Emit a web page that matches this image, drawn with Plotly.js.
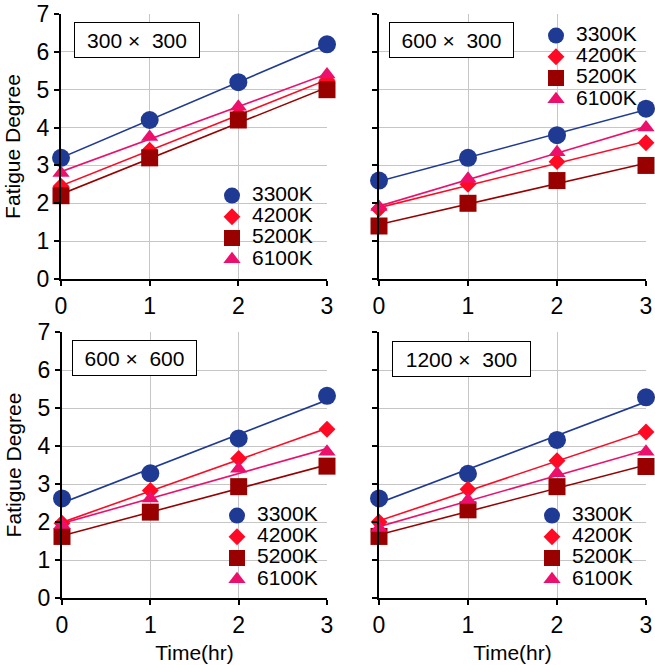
<!DOCTYPE html>
<html>
<head>
<meta charset="utf-8">
<script src="https://cdn.plot.ly/plotly-3.0.1.min.js"></script>
<style>html,body{margin:0;padding:0;background:#fff;}#chart{width:655px;height:665px;}</style>
</head>
<body>
<div id="chart"></div>
<script>
// ---- data ----
const timeHr = [0, 1, 2, 3];
const seriesNames = ["3300K", "4200K", "5200K", "6100K"];
const panelLabels = ["300 \u00d7 \u00a0300", "600 \u00d7 \u00a0300", "600 \u00d7 \u00a0600", "1200 \u00d7 \u00a0300"];

const p300x300_3300K = [3.2, 4.2, 5.2, 6.2];
const p300x300_4200K = [2.45, 3.4, 4.35, 5.25];
const p300x300_5200K = [2.2, 3.2, 4.2, 5.0];
const p300x300_6100K = [2.8, 3.75, 4.55, 5.4];

const p600x300_3300K = [2.6, 3.2, 3.8, 4.5];
const p600x300_4200K = [1.85, 2.5, 3.1, 3.6];
const p600x300_5200K = [1.4, 2.0, 2.6, 3.0];
const p600x300_6100K = [1.9, 2.65, 3.35, 4.0];

const p600x600_3300K = [2.62, 3.28, 4.2, 5.32];
const p600x600_4200K = [1.97, 2.83, 3.67, 4.44];
const p600x600_5200K = [1.62, 2.26, 2.93, 3.47];
const p600x600_6100K = [1.92, 2.62, 3.4, 3.85];

const p1200x300_3300K = [2.62, 3.27, 4.16, 5.28];
const p1200x300_4200K = [2.0, 2.86, 3.61, 4.37];
const p1200x300_5200K = [1.62, 2.32, 2.93, 3.46];
const p1200x300_6100K = [1.84, 2.58, 3.28, 3.85];

const panels = [
  [p300x300_3300K, p300x300_4200K, p300x300_5200K, p300x300_6100K],
  [p600x300_3300K, p600x300_4200K, p600x300_5200K, p600x300_6100K],
  [p600x600_3300K, p600x600_4200K, p600x600_5200K, p600x600_6100K],
  [p1200x300_3300K, p1200x300_4200K, p1200x300_5200K, p1200x300_6100K]
];

// ---- styles ----
const W = 655, H = 665;
const colors = ["#1f3a93", "#ff0a24", "#990000", "#ec106c"];
const symbols = ["circle", "diamond", "square", "triangle-up"];
const sizes = [18, 13, 17, 15];
const FONT = "Liberation Sans, Arial, sans-serif";

// panel pixel boxes [x0, x1, y0, y1]
const boxes = [[61, 327, 14, 279], [379, 646, 14, 279], [62, 327, 332, 598], [379, 646, 332, 598]];
// legend positions (left, top px)
const legendPos = [[212, 180], [536, 20], [217, 500], [532, 500]];
// label boxes (center x, center y, width)
const labelPos = [[137, 40, 122], [452, 40, 121], [134.5, 358, 121], [461.5, 359, 135]];

function fit(x, y) {
  const n = x.length;
  const mx = x.reduce((a, b) => a + b, 0) / n;
  const my = y.reduce((a, b) => a + b, 0) / n;
  let sxy = 0, sxx = 0;
  for (let i = 0; i < n; i++) { sxy += (x[i] - mx) * (y[i] - my); sxx += (x[i] - mx) ** 2; }
  const b = sxy / sxx;
  return [my - b * mx, b];
}

const traces = [];
const layout = {
  width: W, height: H,
  margin: {l: 0, r: 0, t: 0, b: 0},
  paper_bgcolor: "#fff", plot_bgcolor: "#fff",
  font: {family: FONT, color: "#000", size: 21},
  annotations: []
};

panels.forEach((series, p) => {
  const k = p + 1;
  const xa = "x" + k, ya = "y" + k;
  const b = boxes[p];
  const legendId = k === 1 ? "legend" : "legend" + k;
  // fitted lines first
  series.forEach((vals, s) => {
    const [a, sl] = fit(timeHr, vals);
    traces.push({
      x: [timeHr[0], timeHr[timeHr.length - 1]],
      y: [a + sl * timeHr[0], a + sl * timeHr[timeHr.length - 1]],
      xaxis: xa, yaxis: ya, mode: "lines", showlegend: false, hoverinfo: "skip",
      line: {color: colors[s], width: 1.6}, cliponaxis: false
    });
  });
  series.forEach((vals, s) => {
    traces.push({
      x: timeHr, y: vals, xaxis: xa, yaxis: ya, mode: "markers",
      name: '<span style="font-size:21px">' + seriesNames[s] + '</span>',
      legend: legendId, cliponaxis: false,
      marker: {symbol: symbols[s], size: sizes[s], color: colors[s], line: {width: 0}}
    });
  });
  const common = {
    showline: true, linecolor: "#000", linewidth: 2,
    ticks: "outside", ticklen: 5, tickwidth: 2, tickcolor: "#000",
    tickfont: {size: 23, family: FONT, color: "#000"},
    showgrid: true, gridcolor: "#c6c6c6", gridwidth: 1, zeroline: false, fixedrange: true
  };
  layout["xaxis" + k] = Object.assign({}, common, {
    domain: [b[0] / W, b[1] / W], range: [0, 3], dtick: 1, tick0: 0, anchor: ya,
    title: p >= 2 ? {text: "Time(hr)", font: {size: 21, family: FONT}, standoff: 9} : {text: ""}
  });
  layout["yaxis" + k] = Object.assign({}, common, {
    domain: [1 - b[3] / H, 1 - b[2] / H], range: [0, 7], dtick: 1, tick0: 0, anchor: xa,
    showticklabels: (p % 2 === 0),
    title: (p % 2 === 0) ? {text: "Fatigue Degree", font: {size: 21, family: FONT}, standoff: 10} : {text: ""}
  });
  // overlay axes for inside half of crossing ticks
  layout["xaxis" + (k + 4)] = {
    overlaying: xa, anchor: ya, range: [0, 3], dtick: 1, tick0: 0,
    ticks: "inside", ticklen: 5, tickwidth: 2, tickcolor: "#000",
    showticklabels: false, showgrid: false, zeroline: false, showline: false, fixedrange: true
  };
  layout["yaxis" + (k + 4)] = {
    overlaying: ya, anchor: xa, range: [0, 7], dtick: 1, tick0: 0,
    ticks: "inside", ticklen: 5, tickwidth: 2, tickcolor: "#000",
    showticklabels: false, showgrid: false, zeroline: false, showline: false, fixedrange: true
  };
  layout[legendId] = {
    x: legendPos[p][0] / W, y: 1 - legendPos[p][1] / H, xanchor: "left", yanchor: "top",
    bgcolor: "rgba(0,0,0,0)", borderwidth: 0,
    font: {size: 14, family: FONT, color: "#000"}, itemclick: false
  };
  layout.annotations.push({
    xref: "paper", yref: "paper", x: labelPos[p][0] / W, y: 1 - labelPos[p][1] / H,
    xanchor: "center", yanchor: "middle", showarrow: false,
    text: panelLabels[p], width: labelPos[p][2], height: 32, borderpad: 1,
    bordercolor: "#000", borderwidth: 1, bgcolor: "#fff",
    font: {size: 21, family: FONT, color: "#000"}
  });
});

Plotly.newPlot("chart", traces, layout, {displayModeBar: false, staticPlot: true});
</script>
</body>
</html>
